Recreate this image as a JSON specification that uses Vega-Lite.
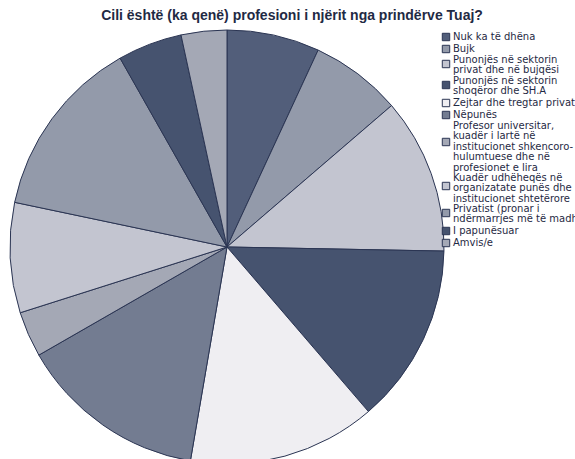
{
  "$schema": "https://vega.github.io/schema/vega-lite/v6.json",
  "width": 434,
  "height": 444,
  "autosize": "none",
  "padding": {"top": 25, "left": 10, "right": 131, "bottom": 0},
  "background": "white",
  "title": {
    "text": "Cili është (ka qenë) profesioni i njërit nga prindërve Tuaj?",
    "font": "Liberation Sans",
    "fontSize": 14,
    "fontWeight": "bold",
    "color": "#1f2a44",
    "anchor": "middle",
    "dx": 65,
    "offset": 2
  },
  "data": {
    "values": [
      {"i": 1, "cat": "Nuk ka të dhëna", "pct": 6.9},
      {"i": 2, "cat": "Bujk", "pct": 6.8},
      {"i": 3, "cat": "Punonjës në sektorin|privat dhe në bujqësi", "pct": 11.6},
      {"i": 4, "cat": "Punonjës në sektorin|shoqëror dhe SH.A", "pct": 13.4},
      {"i": 5, "cat": "Zejtar dhe tregtar privat", "pct": 14.0},
      {"i": 6, "cat": "Nëpunës", "pct": 14.0},
      {"i": 7, "cat": "Profesor universitar,|kuadër i lartë në|institucionet shkencoro-|hulumtuese dhe në|profesionet e lira", "pct": 3.4},
      {"i": 8, "cat": "Kuadër udhëheqës në|organizatate punës dhe në|institucionet shtetërore", "pct": 8.2},
      {"i": 9, "cat": "Privatist (pronar i|ndërmarrjes më të madhe)", "pct": 13.5},
      {"i": 10, "cat": "I papunësuar", "pct": 4.8},
      {"i": 11, "cat": "Amvis/e", "pct": 3.4}
    ]
  },
  "mark": {"type": "arc", "radius": 217, "stroke": "#2b3553", "strokeWidth": 1},
  "encoding": {
    "theta": {"field": "pct", "type": "quantitative", "stack": true},
    "order": {"field": "i", "type": "quantitative"},
    "color": {
      "field": "cat",
      "type": "nominal",
      "sort": null,
      "scale": {
        "domain": [
          "Nuk ka të dhëna", "Bujk",
          "Punonjës në sektorin|privat dhe në bujqësi",
          "Punonjës në sektorin|shoqëror dhe SH.A",
          "Zejtar dhe tregtar privat", "Nëpunës",
          "Profesor universitar,|kuadër i lartë në|institucionet shkencoro-|hulumtuese dhe në|profesionet e lira",
          "Kuadër udhëheqës në|organizatate punës dhe në|institucionet shtetërore",
          "Privatist (pronar i|ndërmarrjes më të madhe)",
          "I papunësuar", "Amvis/e"
        ],
        "range": ["#525e7a", "#939aaa", "#c3c5d0", "#46536f", "#efeef2", "#737c91", "#a4a8b5", "#c3c5d0", "#939aaa", "#46536f", "#a4a8b5"]
      },
      "legend": {
        "title": null,
        "orient": "none",
        "legendX": 431,
        "legendY": 7,
        "labelExpr": "split(datum.label, '|')",
        "labelFont": "DejaVu Sans",
        "labelFontSize": 10,
        "labelBaseline": "middle",
        "labelColor": "#1f2a44",
        "labelLimit": 200,
        "labelOffset": 2,
        "symbolType": "square",
        "symbolSize": 55,
        "symbolStrokeColor": "#2b3553",
        "symbolStrokeWidth": 1,
        "rowPadding": 0,
        "padding": 0,
        "encode": {
          "labels": {
            "update": {
              "lineHeight": {"value": 10.4},
              "dy": {"signal": "-(length(split(datum.value, '|')) - 1) * 4"}
            }
          }
        }
      }
    }
  },
  "config": {"view": {"stroke": null}}
}
